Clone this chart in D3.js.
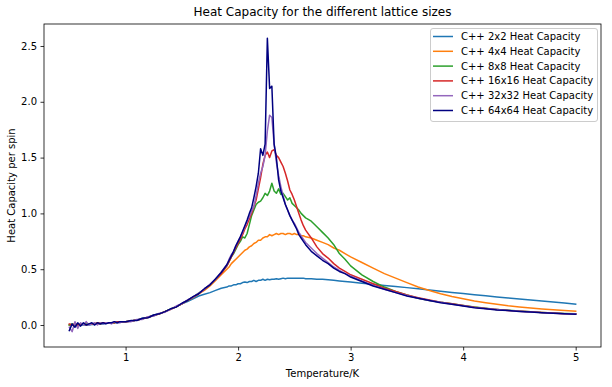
<!DOCTYPE html>
<html>
<head>
<meta charset="utf-8">
<script src="https://cdn.jsdelivr.net/npm/d3@7"></script>
<style>
  html, body { margin: 0; padding: 0; background: #fff; }
  svg { display: block; font-family: "DejaVu Sans", sans-serif; }
</style>
</head>
<body>
<svg id="chart" width="612" height="387"></svg>
<script>
// ---------------- data ----------------
const temperature = [
  0.5, 0.525, 0.55, 0.575, 0.6, 0.625, 0.65, 0.675, 0.7, 0.725, 0.75, 0.775, 0.8, 0.825, 0.85, 0.875, 0.9, 0.925, 0.95, 0.975, 1.0,
  1.05, 1.1, 1.15, 1.2, 1.25, 1.3, 1.35, 1.4, 1.45, 1.5, 1.55, 1.6, 1.65, 1.7, 1.75, 1.8, 1.85,
  1.9, 1.92, 1.94, 1.96, 1.98, 2.0, 2.02, 2.04, 2.06, 2.08, 2.1, 2.12, 2.14, 2.16, 2.18, 2.2, 2.22, 2.24, 2.26, 2.28, 2.3, 2.32, 2.34, 2.36, 2.38, 2.4, 2.42, 2.44, 2.46, 2.48, 2.5, 2.52, 2.54, 2.56, 2.58, 2.6,
  2.65, 2.7, 2.75, 2.8, 2.85, 2.9, 2.95, 3.0,
  3.1, 3.2, 3.3, 3.4, 3.5, 3.6, 3.7, 3.8, 3.9, 4.0, 4.1, 4.2, 4.3, 4.4, 4.5, 4.6, 4.7, 4.8, 4.9, 5.0
];

const labels = [
  "C++ 2x2 Heat Capacity", "C++ 4x4 Heat Capacity", "C++ 8x8 Heat Capacity",
  "C++ 16x16 Heat Capacity", "C++ 32x32 Heat Capacity", "C++ 64x64 Heat Capacity"
];
const colors = ["#1f77b4", "#ff7f0e", "#2ca02c", "#d62728", "#9467bd", "#000080"];

const c2x2 = [
  0.00, 0.00, 0.00, 0.00, 0.00, 0.00, 0.00, 0.00, 0.005, 0.005, 0.01, 0.01, 0.01, 0.015, 0.015, 0.02, 0.02, 0.02, 0.025, 0.03, 0.03,
  0.035, 0.045, 0.06, 0.07, 0.09, 0.10, 0.12, 0.14, 0.165, 0.19, 0.21, 0.235, 0.26, 0.275, 0.29, 0.31, 0.33,
  0.34, 0.35, 0.35, 0.36, 0.36, 0.37, 0.37, 0.38, 0.385, 0.38, 0.39, 0.39, 0.40, 0.39, 0.40, 0.40, 0.41, 0.40, 0.41, 0.405, 0.41, 0.41, 0.415, 0.41, 0.415, 0.42, 0.415, 0.42, 0.42, 0.42, 0.42, 0.42, 0.42, 0.42, 0.42, 0.415,
  0.415, 0.41, 0.41, 0.405, 0.40, 0.395, 0.39, 0.385,
  0.375, 0.365, 0.355, 0.345, 0.335, 0.325, 0.313, 0.302, 0.292, 0.282, 0.272, 0.262, 0.252, 0.243, 0.234, 0.225, 0.216, 0.207, 0.198, 0.186
];
const c4x4 = [
  0.00, 0.00, 0.01, 0.00, 0.01, 0.01, 0.01, 0.01, 0.01, 0.01, 0.01, 0.02, 0.02, 0.02, 0.02, 0.02, 0.02, 0.03, 0.03, 0.03, 0.03,
  0.035, 0.045, 0.055, 0.07, 0.085, 0.10, 0.12, 0.14, 0.165, 0.19, 0.22, 0.245, 0.28, 0.31, 0.35, 0.40, 0.45,
  0.50, 0.52, 0.55, 0.57, 0.59, 0.61, 0.63, 0.65, 0.67, 0.68, 0.70, 0.71, 0.73, 0.74, 0.76, 0.76, 0.78, 0.79, 0.79, 0.81, 0.80, 0.81, 0.82, 0.81, 0.82, 0.82, 0.81, 0.82, 0.82, 0.81, 0.82, 0.81, 0.81, 0.80, 0.80, 0.79,
  0.78, 0.76, 0.74, 0.72, 0.69, 0.67, 0.64, 0.61,
  0.56, 0.51, 0.46, 0.42, 0.38, 0.34, 0.31, 0.28, 0.255, 0.235, 0.215, 0.20, 0.185, 0.172, 0.162, 0.152, 0.144, 0.137, 0.13, 0.124
];
const c8x8 = [
  0.00, 0.01, 0.00, 0.01, 0.00, 0.01, 0.01, 0.01, 0.01, 0.01, 0.02, 0.01, 0.02, 0.02, 0.02, 0.02, 0.02, 0.03, 0.03, 0.03, 0.03,
  0.035, 0.045, 0.055, 0.07, 0.085, 0.10, 0.12, 0.145, 0.165, 0.19, 0.22, 0.25, 0.285, 0.32, 0.36, 0.41, 0.465,
  0.53, 0.57, 0.61, 0.64, 0.68, 0.72, 0.75, 0.79, 0.78, 0.82, 0.90, 0.98, 1.03, 1.08, 1.10, 1.11, 1.14, 1.18, 1.16, 1.20, 1.27, 1.20, 1.18, 1.22, 1.17, 1.18, 1.15, 1.12, 1.14, 1.09, 1.07, 1.05, 1.03, 1.00, 0.98, 0.96,
  0.93, 0.88, 0.83, 0.78, 0.72, 0.64, 0.59, 0.53,
  0.45, 0.39, 0.34, 0.30, 0.27, 0.24, 0.22, 0.205, 0.19, 0.175, 0.162, 0.15, 0.14, 0.132, 0.125, 0.119, 0.113, 0.108, 0.103, 0.10
];
const c16x16 = [
  0.01, 0.00, 0.01, 0.00, 0.01, 0.01, 0.00, 0.01, 0.01, 0.01, 0.02, 0.01, 0.02, 0.02, 0.02, 0.02, 0.02, 0.03, 0.03, 0.03, 0.03,
  0.035, 0.045, 0.055, 0.07, 0.085, 0.10, 0.12, 0.14, 0.165, 0.19, 0.22, 0.25, 0.28, 0.32, 0.36, 0.41, 0.46,
  0.53, 0.57, 0.61, 0.65, 0.69, 0.73, 0.77, 0.81, 0.86, 0.90, 0.95, 1.00, 1.06, 1.12, 1.22, 1.32, 1.44, 1.52, 1.55, 1.50, 1.56, 1.57, 1.52, 1.50, 1.46, 1.42, 1.36, 1.29, 1.21, 1.17, 1.12, 1.06, 1.00, 0.94, 0.89, 0.85,
  0.78, 0.70, 0.64, 0.60, 0.55, 0.51, 0.48, 0.45,
  0.41, 0.37, 0.33, 0.30, 0.27, 0.245, 0.225, 0.205, 0.19, 0.174, 0.16, 0.149, 0.139, 0.131, 0.124, 0.118, 0.112, 0.107, 0.102, 0.099
];
const c32x32 = [
  -0.02, -0.06, 0.03, -0.03, 0.02, 0.00, 0.03, 0.00, 0.01, 0.02, 0.00, 0.02, 0.01, 0.02, 0.02, 0.01, 0.03, 0.02, 0.02, 0.03, 0.03,
  0.03, 0.05, 0.05, 0.075, 0.08, 0.105, 0.115, 0.14, 0.17, 0.19, 0.225, 0.25, 0.285, 0.32, 0.365, 0.41, 0.475,
  0.54, 0.59, 0.63, 0.66, 0.71, 0.75, 0.79, 0.83, 0.88, 0.93, 0.97, 1.02, 1.06, 1.16, 1.27, 1.36, 1.42, 1.52, 1.74, 1.88, 1.86, 1.62, 1.46, 1.34, 1.24, 1.16, 1.08, 1.03, 0.98, 0.94, 0.91, 0.87, 0.83, 0.80, 0.77, 0.74,
  0.69, 0.64, 0.60, 0.56, 0.52, 0.49, 0.46, 0.44,
  0.395, 0.355, 0.32, 0.29, 0.265, 0.24, 0.22, 0.203, 0.187, 0.172, 0.158, 0.147, 0.138, 0.13, 0.123, 0.117, 0.111, 0.106, 0.101, 0.098
];
const c64x64 = [
  -0.05, 0.01, -0.02, 0.02, -0.01, 0.02, 0.00, 0.01, 0.02, 0.00, 0.02, 0.01, 0.02, 0.01, 0.02, 0.02, 0.03, 0.02, 0.03, 0.03, 0.03,
  0.04, 0.04, 0.06, 0.065, 0.09, 0.10, 0.12, 0.145, 0.16, 0.195, 0.22, 0.255, 0.28, 0.325, 0.36, 0.415, 0.47,
  0.54, 0.58, 0.62, 0.66, 0.71, 0.75, 0.79, 0.84, 0.89, 0.94, 1.00, 1.05, 1.14, 1.24, 1.36, 1.58, 1.52, 1.62, 2.57, 2.12, 2.14, 1.62, 1.50, 1.30, 1.20, 1.14, 1.08, 1.03, 0.98, 0.94, 0.90, 0.86, 0.81, 0.78, 0.75, 0.72,
  0.66, 0.62, 0.58, 0.55, 0.51, 0.48, 0.46, 0.43,
  0.39, 0.35, 0.32, 0.29, 0.26, 0.24, 0.22, 0.20, 0.185, 0.17, 0.155, 0.145, 0.135, 0.13, 0.122, 0.116, 0.11, 0.105, 0.10, 0.097
];
const seriesValues = [c2x2, c4x4, c8x8, c16x16, c32x32, c64x64];

const xTicks = [1, 2, 3, 4, 5];
const yTicks = [0.0, 0.5, 1.0, 1.5, 2.0, 2.5];

// ---------------- layout ----------------
const svg = d3.select("#chart");
const margin = { left: 44, right: 601, top: 24, bottom: 347 };

const x = d3.scaleLinear().domain([0.275, 5.225]).range([margin.left, margin.right]);
const y = d3.scaleLinear().domain([-0.197, 2.697]).range([margin.bottom, margin.top]);

const plot = svg.append("g");

// series
const line = d3.line()
  .x((d, i) => x(temperature[i]))
  .y(d => y(d));

seriesValues.forEach((vals, k) => {
  plot.append("path")
    .datum(vals)
    .attr("d", line)
    .attr("fill", "none")
    .attr("stroke", colors[k])
    .attr("stroke-width", 1.5)
    .attr("stroke-linejoin", "round")
    .attr("stroke-linecap", "square");
});

// axes
const xAxis = d3.axisBottom(x).tickValues(xTicks).tickFormat(d3.format("d")).tickSize(3.5).tickPadding(3.5);
const yAxis = d3.axisLeft(y).tickValues(yTicks).tickFormat(d3.format(".1f")).tickSize(3.5).tickPadding(3.5);

const gx = svg.append("g").attr("transform", `translate(0,${margin.bottom})`).call(xAxis);
const gy = svg.append("g").attr("transform", `translate(${margin.left},0)`).call(yAxis);
[gx, gy].forEach(g => {
  g.select(".domain").remove();
  g.selectAll("text").attr("font-size", 10).attr("fill", "#000").attr("font-family", "DejaVu Sans");
  g.selectAll("line").attr("stroke", "#000").attr("stroke-width", 0.8);
});

// frame
svg.append("rect")
  .attr("x", margin.left).attr("y", margin.top)
  .attr("width", margin.right - margin.left).attr("height", margin.bottom - margin.top)
  .attr("fill", "none").attr("stroke", "#000").attr("stroke-width", 0.8);

// title & labels
svg.append("text").attr("x", (margin.left + margin.right) / 2).attr("y", 16)
  .attr("text-anchor", "middle").attr("font-size", 12).attr("fill", "#000")
  .text("Heat Capacity for the different lattice sizes");
svg.append("text").attr("x", (margin.left + margin.right) / 2).attr("y", 377)
  .attr("text-anchor", "middle").attr("font-size", 10).attr("fill", "#000")
  .text("Temperature/K");
svg.append("text")
  .attr("transform", `translate(15,${(margin.top + margin.bottom) / 2}) rotate(-90)`)
  .attr("text-anchor", "middle").attr("font-size", 10).attr("fill", "#000")
  .text("Heat Capacity per spin");

// legend
const lg = svg.append("g");
lg.append("rect").attr("x", 430.5).attr("y", 28.5).attr("width", 167).attr("height", 93)
  .attr("rx", 2.5).attr("fill", "#fff").attr("fill-opacity", 0.8)
  .attr("stroke", "#cccccc").attr("stroke-width", 1);
labels.forEach((lab, k) => {
  const cy = 36.5 + k * 14.8;
  lg.append("line").attr("x1", 433).attr("x2", 453).attr("y1", cy).attr("y2", cy)
    .attr("stroke", colors[k]).attr("stroke-width", 1.5);
  lg.append("text").attr("x", 461).attr("y", cy).attr("dy", "0.35em")
    .attr("font-size", 10).attr("fill", "#000").text(lab);
});
</script>
</body>
</html>
